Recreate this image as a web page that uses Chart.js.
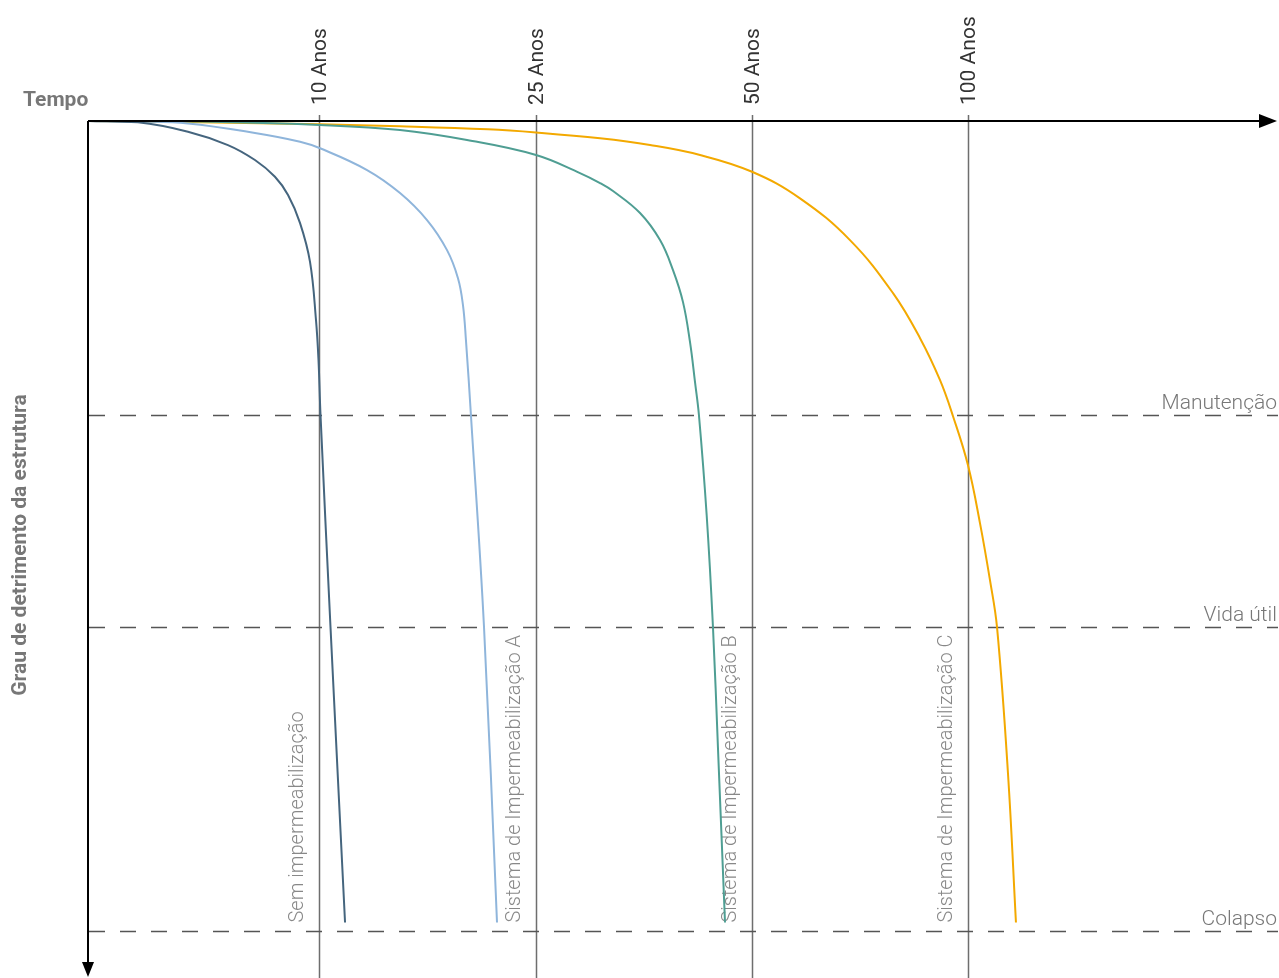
<!DOCTYPE html>
<html>
<head>
<meta charset="utf-8">
<script src="https://cdn.jsdelivr.net/npm/chart.js@4/dist/chart.umd.min.js"></script>
<style>
  html, body { margin: 0; padding: 0; background: #fff; }
  #wrap { width: 1279px; height: 978px; }
</style>
</head>
<body>
<div id="wrap"><canvas id="detrimento" width="1279" height="978"></canvas></div>
<script>
// time axis (relative position, 0 = origin) and detriment axis (100 = colapso)
const tickLabels = ['10 Anos', '25 Anos', '50 Anos', '100 Anos'];
const tickPositions = [19.41, 37.65, 55.8, 73.95];

const levelLabels = ['Manutenção', 'Vida útil', 'Colapso'];
const levelValues = [36.3, 62.5, 100];

const seriesNames = [
	'Sem impermeabilização',
	'Sistema de Impermeabilização A',
	'Sistema de Impermeabilização B',
	'Sistema de Impermeabilização C',
];
const seriesColors = ['#45657e', '#8fb5db', '#4f9e93', '#f3a900'];

const semX = [0, 4.2, 8.4, 11.76, 14.03, 15.71, 16.81, 17.82, 18.66, 19.16, 19.37, 19.54, 20.38, 21.6];
const semY = [0, 0.16, 1.32, 2.97, 4.82, 6.89, 9.15, 12.61, 17.43, 24.6, 29.54, 36.34, 62.55, 99];

const sisAX = [0, 4.37, 8.4, 14.03, 17.82, 19.5, 23.45, 26.22, 28.49, 30.17, 31.09, 31.51, 31.76, 32.18, 33.28, 34.37];
const sisAY = [0, 0.07, 0.31, 1.48, 2.56, 3.37, 6.06, 8.9, 12.24, 15.95, 19.41, 22.74, 27.07, 36.34, 62.55, 99];

const sisBX = [0, 9.41, 19.5, 26.22, 31.85, 37.65, 41.34, 43.03, 44.12, 46.39, 48.07, 49.16, 50.0, 50.59, 51.01, 51.34, 51.99, 52.52, 52.94, 53.53];
const sisBY = [0, 0.07, 0.49, 1.11, 2.35, 4.2, 6.43, 7.66, 8.65, 11.37, 14.71, 18.42, 22.37, 27.32, 32.26, 36.34, 48.7, 62.55, 77.5, 99];

const sisCX = [0, 9.41, 19.5, 26.22, 33.61, 37.65, 43.03, 47.23, 51.43, 55.8, 59.83, 64.03, 67.65, 69.92, 71.6, 72.69, 73.95, 74.96, 75.8, 76.39, 77.31, 77.98];
const sisCY = [0, 0.15, 0.41, 0.65, 1.03, 1.42, 2.14, 2.97, 4.2, 6.27, 9.55, 14.71, 21.26, 26.82, 32.01, 36.46, 42.52, 49.69, 56.74, 62.55, 80.59, 99];

const seriesX = [semX, sisAX, sisBX, sisCX];
const seriesY = [semY, sisAY, sisBY, sisCY];

const FONT = 'Roboto, "Open Sans", sans-serif';

const overlay = {
	id: 'overlay',
	beforeDatasetsDraw(chart) {
		const { ctx, chartArea: a, scales: { x, y } } = chart;
		ctx.save();

		// year lines + labels
		ctx.strokeStyle = '#6e6e6e';
		ctx.lineWidth = 1.5;
		tickPositions.forEach((v, i) => {
			const px = Math.round(x.getPixelForValue(v)) + 0.5;
			ctx.beginPath();
			ctx.moveTo(px, a.top - 6);
			ctx.lineTo(px, chart.height);
			ctx.stroke();

			ctx.save();
			ctx.translate(px + 1, a.top - 16);
			ctx.rotate(-Math.PI / 2);
			ctx.font = '400 21px ' + FONT;
			ctx.fillStyle = '#333';
			ctx.textAlign = 'left';
			ctx.textBaseline = 'middle';
			ctx.fillText(tickLabels[i], 0, 0);
			ctx.restore();
		});

		// levels
		ctx.strokeStyle = '#555';
		ctx.setLineDash([16, 15]);
		levelValues.forEach((v) => {
			const py = Math.round(y.getPixelForValue(v)) + 0.5;
			ctx.beginPath();
			ctx.moveTo(a.left + 1, py);
			ctx.lineTo(a.right, py);
			ctx.stroke();
		});
		ctx.setLineDash([]);
		ctx.font = '300 21px ' + FONT;
		ctx.fillStyle = '#777';
		ctx.textAlign = 'right';
		ctx.textBaseline = 'alphabetic';
		levelValues.forEach((v, i) => {
			ctx.fillText(levelLabels[i], a.right - 1, y.getPixelForValue(v) - 6);
		});

		// series names, rotated beside the year lines
		ctx.font = '300 20px ' + FONT;
		ctx.fillStyle = '#888';
		seriesNames.forEach((name, i) => {
			ctx.save();
			ctx.translate(x.getPixelForValue(tickPositions[i]) - 21, y.getPixelForValue(99));
			ctx.rotate(-Math.PI / 2);
			ctx.textAlign = 'left';
			ctx.textBaseline = 'middle';
			ctx.fillText(name, 0, 0);
			ctx.restore();
		});
		ctx.restore();
	},
	afterDatasetsDraw(chart) {
		const { ctx, chartArea: a } = chart;
		ctx.save();
		ctx.strokeStyle = '#000';
		ctx.fillStyle = '#000';
		ctx.lineWidth = 2;
		ctx.beginPath();
		ctx.moveTo(a.left, a.top);
		ctx.lineTo(a.right - 14, a.top);
		ctx.moveTo(a.left, a.top);
		ctx.lineTo(a.left, a.bottom - 10);
		ctx.stroke();

		// arrows
		ctx.beginPath();
		ctx.moveTo(a.right - 1, a.top);
		ctx.lineTo(a.right - 19, a.top - 7);
		ctx.lineTo(a.right - 19, a.top + 7);
		ctx.closePath();
		ctx.fill();
		ctx.beginPath();
		ctx.moveTo(a.left, a.bottom + 1);
		ctx.lineTo(a.left - 6, a.bottom - 14);
		ctx.lineTo(a.left + 6, a.bottom - 14);
		ctx.closePath();
		ctx.fill();

		// axis titles
		ctx.fillStyle = '#777';
		ctx.font = '700 21px ' + FONT;
		ctx.textAlign = 'left';
		ctx.textBaseline = 'alphabetic';
		ctx.fillText('Tempo', 23, a.top - 15);
		ctx.save();
		ctx.translate(26, 545);
		ctx.rotate(-Math.PI / 2);
		ctx.textAlign = 'center';
		ctx.fillText('Grau de detrimento da estrutura', 0, 0);
		ctx.restore();
		ctx.restore();
	}
};

new Chart(document.getElementById('detrimento').getContext('2d'), {
	type: 'line',
	data: {
		datasets: seriesNames.map((name, i) => ({
			label: name,
			data: seriesX[i].map((v, j) => ({ x: v, y: seriesY[i][j] })),
			borderColor: seriesColors[i],
			borderWidth: 2,
			pointRadius: 0,
			fill: false,
			tension: 0.4,
		}))
	},
	options: {
		responsive: false,
		animation: false,
		layout: { padding: { left: 88, top: 121, right: 1, bottom: 2 } },
		plugins: {
			legend: { display: false },
			tooltip: { enabled: false },
		},
		scales: {
			x: { type: 'linear', min: 0, max: 100, display: false },
			y: { type: 'linear', min: 0, max: 105.6, reverse: true, display: false },
		}
	},
	plugins: [overlay]
});
</script>
</body>
</html>
